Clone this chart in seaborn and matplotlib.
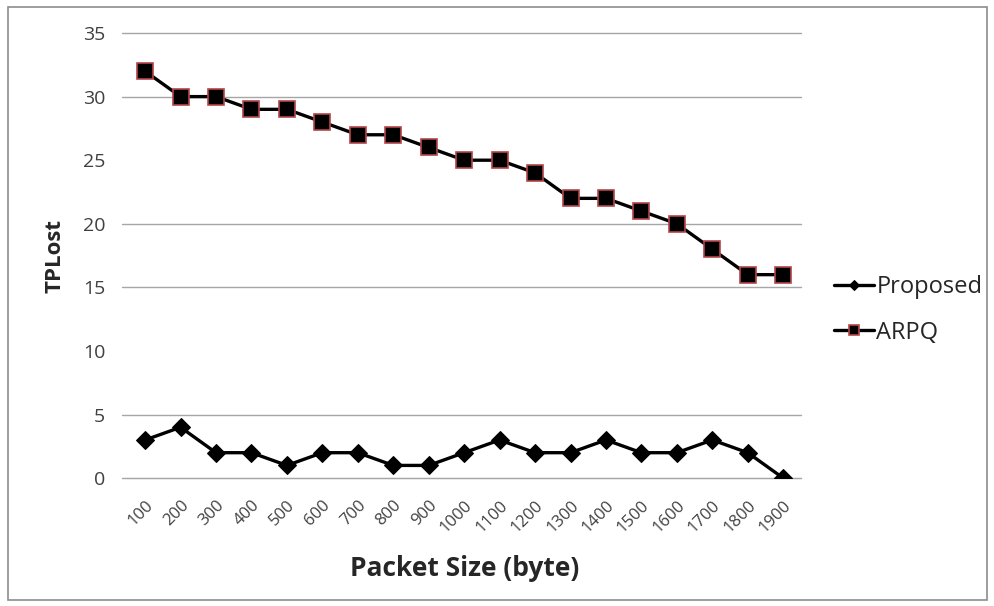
import seaborn as sns
import matplotlib.pyplot as plt
import pandas as pd
from matplotlib.patches import Rectangle

packet_sizes = ['100', '200', '300', '400', '500', '600', '700', '800', '900', '1000',
                '1100', '1200', '1300', '1400', '1500', '1600', '1700', '1800', '1900']
proposed = [3, 4, 2, 2, 1, 2, 2, 1, 1, 2, 3, 2, 2, 3, 2, 2, 3, 2, 0]
arpq = [32, 30, 30, 29, 29, 28, 27, 27, 26, 25, 25, 24, 22, 22, 21, 20, 18, 16, 16]
y_ticks = [0, 5, 10, 15, 20, 25, 30, 35]
grid_rows = [0, 5, 15, 20, 30, 35]

sns.set_style('white')
plt.rcParams['font.family'] = ['Open Sans', 'DejaVu Sans']

df = pd.DataFrame({'size': packet_sizes, 'Proposed': proposed, 'ARPQ': arpq})
df['pos'] = range(len(df))

fig = plt.figure(figsize=(9.95, 6.06), dpi=100)
ax = fig.add_axes([0.128, 0.211, 0.677, 0.7345])

for y in grid_rows:
    ax.axhline(y, xmin=-0.008, color='#a6a6a6', linewidth=1.0, zorder=0, clip_on=False)

sns.lineplot(df, x='pos', y='Proposed', ax=ax, color='black', linewidth=2.4,
             marker='D', markersize=9, markeredgecolor='black', label='Proposed', zorder=3)
sns.lineplot(df, x='pos', y='ARPQ', ax=ax, color='black', linewidth=2.4,
             marker='s', markersize=11, markeredgecolor='#b5454a', markeredgewidth=1.2,
             label='ARPQ', zorder=3)

ax.set_xlim(-0.5, len(df) - 0.5)
ax.set_ylim(0, 35)
ax.set_yticks(y_ticks)
ax.set_xticks(df['pos'])
ax.set_xticklabels(packet_sizes, rotation=45, fontsize=12, color='#404040')
ax.set_xticks([p + 0.5 for p in range(len(df) - 1)], minor=True)
ax.tick_params(axis='x', which='major', length=0, pad=14)
ax.tick_params(axis='x', which='minor', length=5, color='#a6a6a6', direction='out')
ax.tick_params(axis='y', length=0, labelsize=14, colors='#404040', pad=16)
for lbl in ax.get_xticklabels():
    lbl.set_ha('right')
    lbl.set_rotation_mode('anchor')

for s in ['top', 'right', 'left']:
    ax.spines[s].set_visible(False)
ax.spines['bottom'].set_color('#a6a6a6')

ax.set_xlabel('Packet Size (byte)', fontsize=19, fontweight='bold', labelpad=14)
ax.set_ylabel('TPLost', fontsize=16, fontweight='bold', labelpad=12)

ax.legend(loc='center left', bbox_to_anchor=(1.035, 0.378), frameon=False, fontsize=17,
          handlelength=1.7, handletextpad=0.1, labelspacing=0.9, markerscale=0.6,
          borderaxespad=0)

fig.patches.append(Rectangle((0.008, 0.01), 0.984, 0.978, transform=fig.transFigure,
                             fill=False, edgecolor='#8c8c8c', linewidth=1.2))

fig.savefig('out.png', dpi=100)
